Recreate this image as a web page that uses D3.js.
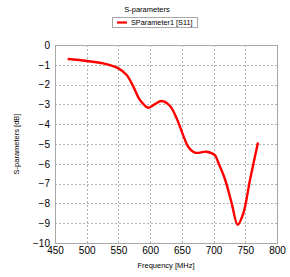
<!DOCTYPE html>
<html>
<head>
<meta charset="utf-8">
<script src="https://cdn.jsdelivr.net/npm/d3@7"></script>
<style>
body{margin:0;background:#fff;}
text{font-family:"Liberation Sans",Arial,sans-serif;fill:#000;}
</style>
</head>
<body>
<div id="plotdiv"></div>
<script>
// values
var freq = [470, 500, 526, 550, 563, 573.5, 584, 597, 607, 618, 631, 641.7, 652, 660, 670.7, 689, 702, 707.5, 718, 728.6, 738, 746.9, 757.5, 770];
var s11  = [-0.71, -0.81, -0.93, -1.18, -1.52, -2.1, -2.78, -3.17, -3.0, -2.83, -3.07, -3.7, -4.55, -5.14, -5.44, -5.39, -5.56, -5.95, -6.78, -8.0, -9.08, -8.5, -6.8, -4.92];
var xTicks = [450, 500, 550, 600, 650, 700, 750, 800];
var yTicks = [0, -1, -2, -3, -4, -5, -6, -7, -8, -9, -10];
var seriesName = "SParameter1 [S11]";

function drawChart()
{
	var width = 290, height = 277;
	var pL = 55, pR = 277, pT = 45, pB = 243;

	var svg = d3.select("#plotdiv").append("svg")
		.attr("width", width)
		.attr("height", height);

	var x = d3.scaleLinear().domain([450, 800]).range([pL, pR]);
	var y = d3.scaleLinear().domain([-10, 0]).range([pB, pT]);

	// grid
	svg.append("g").selectAll("line")
		.data(xTicks.slice(1, -1))
		.enter().append("line")
		.attr("x1", function(d){return Math.round(x(d)) + 0.5;})
		.attr("x2", function(d){return Math.round(x(d)) + 0.5;})
		.attr("y1", pT).attr("y2", pB)
		.attr("stroke", "#a0a0a0")
		.attr("stroke-dasharray", "2,2")
		.attr("stroke-width", 0.8);
	svg.append("g").selectAll("line")
		.data(yTicks.slice(1, -1))
		.enter().append("line")
		.attr("y1", function(d){return Math.round(y(d)) + 0.5;})
		.attr("y2", function(d){return Math.round(y(d)) + 0.5;})
		.attr("x1", pL).attr("x2", pR)
		.attr("stroke", "#a0a0a0")
		.attr("stroke-dasharray", "2,2")
		.attr("stroke-width", 0.8);

	// axes (tick text only, the box is drawn separately)
	var xAxis = svg.append("g")
		.attr("transform", "translate(0," + pB + ")")
		.call(d3.axisBottom(x).tickValues(xTicks).tickSize(0).tickPadding(4));
	var yAxis = svg.append("g")
		.attr("transform", "translate(" + pL + ",0)")
		.call(d3.axisLeft(y).tickValues(yTicks).tickSize(0).tickPadding(5));
	[xAxis, yAxis].forEach(function(a){
		a.select(".domain").remove();
		a.selectAll("text")
			.style("font-size", "10px")
			.style("font-family", "Liberation Sans, Arial, sans-serif")
			.attr("fill", "#000");
	});

	svg.append("rect")
		.attr("x", pL + 0.5).attr("y", pT + 0.5)
		.attr("width", pR - pL).attr("height", pB - pT)
		.attr("fill", "none")
		.attr("stroke", "#a8a8a8")
		.attr("stroke-width", 1);

	// curve
	var line = d3.line()
		.x(function(d, i){return x(freq[i]);})
		.y(function(d){return y(d);})
		.curve(d3.curveCatmullRom.alpha(0.5));
	svg.append("path")
		.attr("d", line(s11))
		.attr("fill", "none")
		.attr("stroke", "#ff0000")
		.attr("stroke-width", 2.4)
		.attr("stroke-linejoin", "round");

	// title, legend, axis titles
	svg.append("text")
		.attr("x", 147).attr("y", 12)
		.attr("text-anchor", "middle")
		.style("font-size", "7.5px")
		.text("S-parameters");

	svg.append("rect")
		.attr("x", 112.5).attr("y", 17.5)
		.attr("width", 85).attr("height", 10)
		.attr("fill", "#fff")
		.attr("stroke", "#a8a8a8");
	svg.append("line")
		.attr("x1", 117).attr("x2", 127)
		.attr("y1", 22.5).attr("y2", 22.5)
		.attr("stroke", "#ff0000")
		.attr("stroke-width", 2.2);
	svg.append("text")
		.attr("x", 131).attr("y", 25.3)
		.style("font-size", "7.3px")
		.text(seriesName);

	svg.append("text")
		.attr("x", (pL + pR) / 2).attr("y", 268)
		.attr("text-anchor", "middle")
		.style("font-size", "7.5px")
		.text("Frequency [MHz]");

	svg.append("text")
		.attr("transform", "translate(19," + (pT + pB) / 2 + ") rotate(-90)")
		.attr("text-anchor", "middle")
		.style("font-size", "7.5px")
		.text("S-parameters [dB]");
}

drawChart();
</script>
</body>
</html>
